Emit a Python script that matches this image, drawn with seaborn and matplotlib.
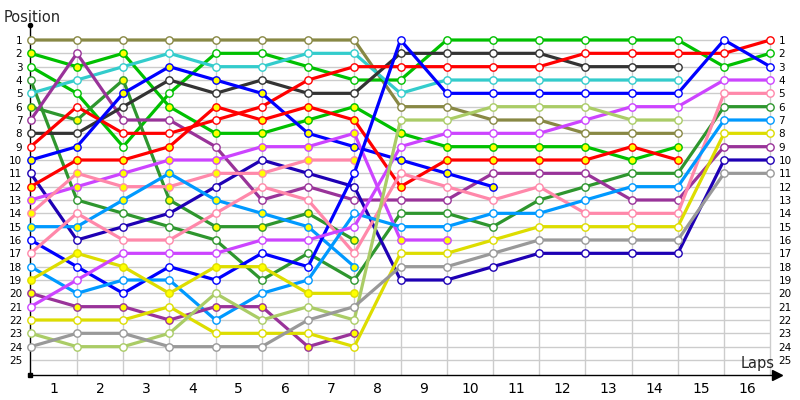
import matplotlib
matplotlib.use("Agg")
import matplotlib.pyplot as plt
import seaborn as sns
import pandas as pd

sns.set_theme(style="white")
plt.rcParams["font.family"] = ["DejaVu Sans"]

# ---------------- data ----------------
lap_labels = [str(i) for i in range(1, 17)]
positions = list(range(1, 26))

# position at the grid (index 0) and after each lap, until retirement
olive     = [1, 1, 1, 1, 1, 1, 1, 1, 6, 6, 7, 7, 8, 8, 8]
green_a   = [2, 3, 2, 6, 8, 8, 7, 6, 8, 9, 9, 9, 9, 10, 9]
green_b   = [3, 5, 9, 5, 2, 2, 3, 4, 4, 1, 1, 1, 1, 1, 1, 3, 2]
dkgreen_a = [4, 13, 14, 15, 16, 19, 17, 19, 14, 14, 15, 13, 12, 11, 11, 6, 6]
cyan      = [5, 4, 3, 2, 3, 3, 2, 2, 5, 4, 4, 4, 4, 4, 4]
dkgreen_b = [6, 7, 4, 13, 15, 15, 14, 16]
purple_a  = [7, 2, 7, 7, 9, 13, 12, 13, 13, 13, 11, 11, 11, 13, 13, 9, 9]
dkgray    = [8, 8, 6, 4, 5, 4, 5, 5, 2, 2, 2, 2, 3, 3, 3]
red_a     = [9, 6, 8, 8, 7, 6, 4, 3, 3, 3, 3, 3, 2, 2, 2, 2, 1]
blue_a    = [10, 9, 5, 3, 4, 5, 8, 9, 10, 11, 12]
navy      = [11, 16, 15, 14, 12, 10, 11, 12, 19, 19, 18, 17, 17, 17, 17, 10, 10]
red_b     = [12, 10, 10, 9, 6, 7, 6, 7, 12, 10, 10, 10, 10, 9, 10]
violet_b  = [13, 12, 11, 10, 10, 9, 9, 8, 16, 16]
pink_b    = [14, 11, 12, 12, 11, 11, 10, 10]
ltblue_b  = [15, 15, 13, 11, 13, 14, 15, 18]
blue_b    = [16, 18, 20, 18, 19, 17, 18, 11, 1, 5, 5, 5, 5, 5, 5, 1, 3]
pink_a    = [17, 14, 16, 16, 14, 12, 13, 17, 11, 12, 13, 12, 14, 14, 14, 5, 5]
ltblue_a  = [18, 20, 19, 19, 22, 20, 19, 14, 15, 15, 14, 14, 13, 12, 12, 7, 7]
yellow_b  = [19, 17, 18, 20, 18, 18, 20, 20]
purple_b  = [20, 21, 21, 22, 21, 21, 24, 23]
violet_a  = [21, 19, 17, 17, 17, 16, 16, 15, 9, 8, 8, 8, 7, 6, 6, 4, 4]
yellow_a  = [22, 22, 22, 21, 23, 23, 23, 24, 17, 17, 16, 15, 15, 15, 15, 8, 8]
ltgreen   = [23, 24, 24, 23, 20, 22, 21, 22, 7, 7, 6, 6, 6, 7, 7]
gray      = [24, 23, 23, 24, 24, 24, 22, 21, 18, 18, 17, 16, 16, 16, 16, 11, 11]

OLIVE, GREEN, DKGREEN, CYAN = "#888844", "#00c000", "#2e962e", "#33cccc"
PURPLE, DKGRAY, RED, BLUE = "#993399", "#333333", "#ff0000", "#0000ff"
NAVY, VIOLET, PINK, LTBLUE = "#1e00b4", "#cc44ff", "#ff88aa", "#0099ff"
YELLOW, LTGREEN, GRAY = "#dddd00", "#aacc66", "#999999"
W, Y = "#ffffff", "#ffff00"

drivers = [
    ("olive", olive, OLIVE, W), ("green_a", green_a, GREEN, Y),
    ("green_b", green_b, GREEN, W), ("dkgreen_a", dkgreen_a, DKGREEN, W),
    ("cyan", cyan, CYAN, W), ("dkgreen_b", dkgreen_b, DKGREEN, Y),
    ("purple_a", purple_a, PURPLE, W), ("dkgray", dkgray, DKGRAY, W),
    ("red_a", red_a, RED, W), ("blue_a", blue_a, BLUE, Y),
    ("navy", navy, NAVY, W), ("red_b", red_b, RED, Y),
    ("violet_b", violet_b, VIOLET, Y), ("pink_b", pink_b, PINK, Y),
    ("ltblue_b", ltblue_b, LTBLUE, Y), ("blue_b", blue_b, BLUE, W),
    ("pink_a", pink_a, PINK, W), ("ltblue_a", ltblue_a, LTBLUE, W),
    ("yellow_b", yellow_b, YELLOW, Y), ("purple_b", purple_b, PURPLE, Y),
    ("violet_a", violet_a, VIOLET, W), ("yellow_a", yellow_a, YELLOW, W),
    ("ltgreen", ltgreen, LTGREEN, W), ("gray", gray, GRAY, W),
]

rows = []
for name, seq, _, _ in drivers:
    for lap, p in enumerate(seq):
        rows.append({"driver": name, "lap": lap, "pos": p})
df = pd.DataFrame(rows)

# ---------------- figure ----------------
fig = plt.figure(figsize=(8, 4), dpi=100)
L, R, T, B = 30, 777, 25, 375
ax = fig.add_axes([L / 800, 1 - B / 400, (R - L) / 800, (B - T) / 400])
ax.set_facecolor("white")

x0, xs = 30.7, 46.225
y0, ys = 40.0, 13.333
ax.set_xlim((L - x0) / xs, (R - x0) / xs)
ax.set_ylim(1 + (B - y0) / ys, 1 + (T - y0) / ys)

# grid
ax.hlines(positions, 0, 16, color="#cccccc", lw=1, zorder=0)
ax.vlines(range(1, 17), 1, 1 + (B - y0) / ys, color="#cccccc", lw=1, zorder=0)

for name, seq, col, fc in drivers:
    sub = df[df["driver"] == name]
    sns.lineplot(data=sub, x="lap", y="pos", ax=ax, color=col, lw=2.3,
                 marker="o", markersize=5.3, markerfacecolor=fc,
                 markeredgecolor=col, markeredgewidth=1.0,
                 estimator=None, sort=False, clip_on=False, zorder=3)

ax.set_xlabel("")
ax.set_ylabel("")
ax.set_xticks([k - 0.5 for k in range(1, 17)])
ax.set_xticklabels(lap_labels, fontsize=10)
ax.set_yticks(positions)
ax.set_yticklabels([str(p) for p in positions], fontsize=7.5)
ax.tick_params(axis="x", length=0, pad=5, colors="black")
ax.tick_params(axis="y", length=0, pad=5.5, colors="black")

for s in ["top", "right"]:
    ax.spines[s].set_visible(False)
for s in ["left", "bottom"]:
    ax.spines[s].set_color("black")
    ax.spines[s].set_linewidth(1.0)

ax2 = ax.twinx()
ax2.set_ylim(ax.get_ylim())
ax2.set_yticks(positions)
ax2.set_yticklabels([str(p) for p in positions], fontsize=7.5)
ax2.tick_params(axis="y", length=0, pad=1, colors="black")
ax2.grid(False)
for s in ax2.spines.values():
    s.set_visible(False)

# axis decorations
ax.plot([0], [1], transform=ax.transAxes, marker="o", ms=3, color="black", clip_on=False, zorder=5)
ax.plot([0], [0], transform=ax.transAxes, marker="s", ms=3, color="black", clip_on=False, zorder=5)
ax.plot([1], [0], transform=ax.transAxes, marker=">", ms=7, color="black", clip_on=False, zorder=5)

fig.text(4 / 800, 1 - 22 / 400, "Position", fontsize=10.5, va="baseline", ha="left")
fig.text(775 / 800, 1 - 368 / 400, "Laps", fontsize=10.5, va="baseline", ha="right")

fig.savefig("out.png", dpi=100)
